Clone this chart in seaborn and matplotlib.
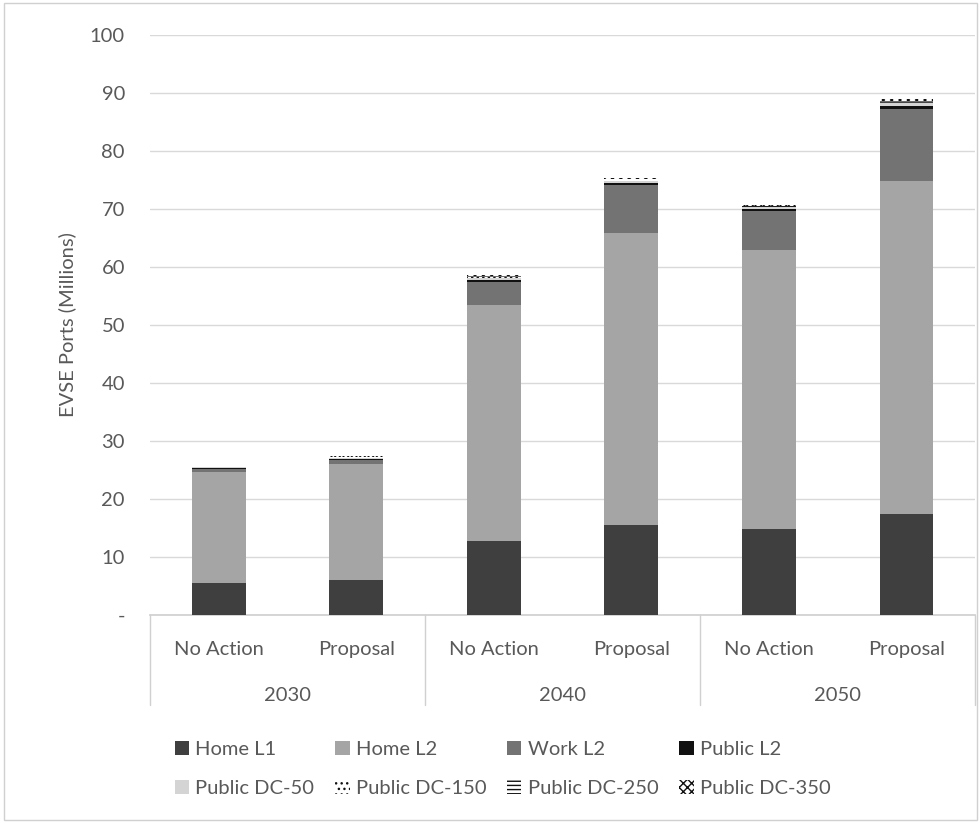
import numpy as np
import pandas as pd
import matplotlib
matplotlib.use("Agg")
import matplotlib.pyplot as plt
import matplotlib.transforms as mtransforms
from matplotlib.patches import Patch, Rectangle
import seaborn as sns

# categories
years = ["2030", "2040", "2050"]
cases = ["No Action", "Proposal"]
bars = [f"{y} {c}" for y in years for c in cases]

# series values (millions of ports), one entry per bar
home_l1 = [5.6, 6.0, 12.8, 15.5, 14.9, 17.4]
home_l2 = [19.0, 20.0, 40.7, 50.3, 48.1, 57.4]
work_l2 = [0.6, 0.8, 4.0, 8.3, 6.7, 12.4]
public_l2 = [0.1, 0.1, 0.3, 0.4, 0.3, 0.5]
public_dc50 = [0.2, 0.2, 0.3, 0.4, 0.3, 0.5]
public_dc150 = [0.05, 0.05, 0.1, 0.1, 0.1, 0.15]
public_dc250 = [0.1, 0.1, 0.2, 0.2, 0.15, 0.3]
public_dc350 = [0.1, 0.1, 0.2, 0.2, 0.15, 0.3]

series = {
    "Home L1": home_l1,
    "Home L2": home_l2,
    "Work L2": work_l2,
    "Public L2": public_l2,
    "Public DC-50": public_dc50,
    "Public DC-150": public_dc150,
    "Public DC-250": public_dc250,
    "Public DC-350": public_dc350,
}
colors = {
    "Home L1": "#3f3f3f",
    "Home L2": "#a5a5a5",
    "Work L2": "#737373",
    "Public L2": "#111111",
    "Public DC-50": "#d4d4d4",
    "Public DC-150": "#ffffff",
    "Public DC-250": "#ffffff",
    "Public DC-350": "#ffffff",
}
hatches = {
    "Public DC-150": "...",
    "Public DC-250": "----",
    "Public DC-350": "xxxx",
}

sns.set_theme(style="white")
plt.rcParams["font.family"] = ["Lato", "DejaVu Sans"]
plt.rcParams["hatch.linewidth"] = 1.0

df = pd.DataFrame(series, index=bars)
cum = df.cumsum(axis=1)

fig = plt.figure(figsize=(9.8, 8.23), dpi=100)
ax = fig.add_axes([0.153, 0.2527, 0.842, 0.7047])

# stacked bars: draw cumulative totals from the top series down
names = list(series.keys())
for name in reversed(names):
    n_before = len(ax.patches)
    sns.barplot(x=bars, y=cum[name].values, color=colors[name], width=0.39,
                saturation=1, linewidth=0, ax=ax, zorder=3)
    if name in hatches:
        for p in ax.patches[n_before:]:
            p.set_hatch(hatches[name])
            p.set_edgecolor("#111111")
            p.set_linewidth(0)

ax.set_ylim(0, 100)
ax.set_xlim(-0.5, 5.5)
ax.set_yticks(range(0, 101, 10))
ax.set_yticklabels(["-"] + [str(v) for v in range(10, 101, 10)])
ax.yaxis.grid(True, color="#d9d9d9", lw=1, zorder=0)
ax.tick_params(axis="y", length=0, labelsize=14.5, labelcolor="#595959", pad=18)
ax.set_ylabel("EVSE Ports (Millions)", fontsize=14.5, color="#595959", labelpad=10)
for s in ["left", "right", "top"]:
    ax.spines[s].set_visible(False)
ax.spines["bottom"].set_color("#d0d0d0")
ax.set_xticks(range(len(bars)))
ax.set_xticklabels([c for y in years for c in cases])
ax.tick_params(axis="x", length=0, labelsize=14.5, labelcolor="#595959", pad=19)

# multi-level category box
trans = mtransforms.blended_transform_factory(ax.transData, ax.transAxes)
for xs in [-0.5, 1.5, 3.5, 5.5]:
    ax.plot([xs, xs], [0, -0.155], transform=trans, color="#d0d0d0", lw=1,
            clip_on=False)
for i, y in enumerate(years):
    ax.text(2 * i + 0.5, -0.138, y, transform=trans, ha="center", va="center",
            fontsize=14.5, color="#595959")

# legend filled row by row, like the original
handles = {n: Patch(facecolor=colors[n], hatch=hatches.get(n), edgecolor="#111111",
                    linewidth=0) for n in names}
order = [names[i] for i in (0, 4, 1, 5, 2, 6, 3, 7)]
fig.legend([handles[n] for n in order], order, loc="center",
           bbox_to_anchor=(0.513, 0.066), ncol=4, frameon=False, fontsize=14.5,
           labelcolor="#595959", handlelength=0.7, handleheight=0.7,
           handletextpad=0.3, columnspacing=1.05, labelspacing=1.1)

fig.patches.append(Rectangle((0.004, 0.004), 0.993, 0.992, transform=fig.transFigure,
                             fill=False, edgecolor="#d0d0d0", lw=1))

fig.savefig("out.png", dpi=100)
